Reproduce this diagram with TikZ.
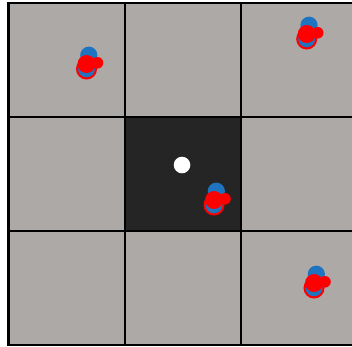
\documentclass[tikz,border=0pt]{standalone}
\definecolor{cellgray}{HTML}{ADA9A7}
\definecolor{celldark}{HTML}{252525}
\definecolor{dotblue}{HTML}{1F74C0}
\definecolor{dotred}{HTML}{FF0000}
\tikzset{
  gridline/.style={black,line width=2.7pt},
  bluedot/.style={fill=dotblue,draw=none},
  ringdot/.style={fill=dotblue,draw=dotred,line width=2pt},
  reddot/.style={fill=dotred,draw=none},
}
\newcommand{\cluster}[2]{%
  \fill[bluedot] (#1+2.3,#2-8.8) circle (8.6pt);
  \draw[ringdot] (#1,#2+5) circle (9.5pt);
  \fill[reddot] (#1,#2) circle (9pt);
  \fill[reddot] (#1+11,#2-1.2) circle (5.8pt);
}
\begin{document}
\begin{tikzpicture}[x=1pt,y=-1pt]
\useasboundingbox (0,0) rectangle (352,346);
\clip (0,0) rectangle (352,346);
\fill[white] (0,0) rectangle (352,346);
\fill[cellgray] (8.5,3) rectangle (357,345);
\fill[celldark] (125,117) rectangle (241,231);
\draw[gridline] (8.5,3) rectangle (357,345);
\draw[gridline] (125,3) -- (125,345);
\draw[gridline] (241,3) -- (241,345);
\draw[gridline] (8.5,117) -- (357,117);
\draw[gridline] (8.5,231) -- (357,231);
\fill[white] (182,165) circle (8.3pt);
\cluster{86.5}{64}
\cluster{306.7}{34}
\cluster{214}{200}
\cluster{314}{283}
\end{tikzpicture}
\end{document}
